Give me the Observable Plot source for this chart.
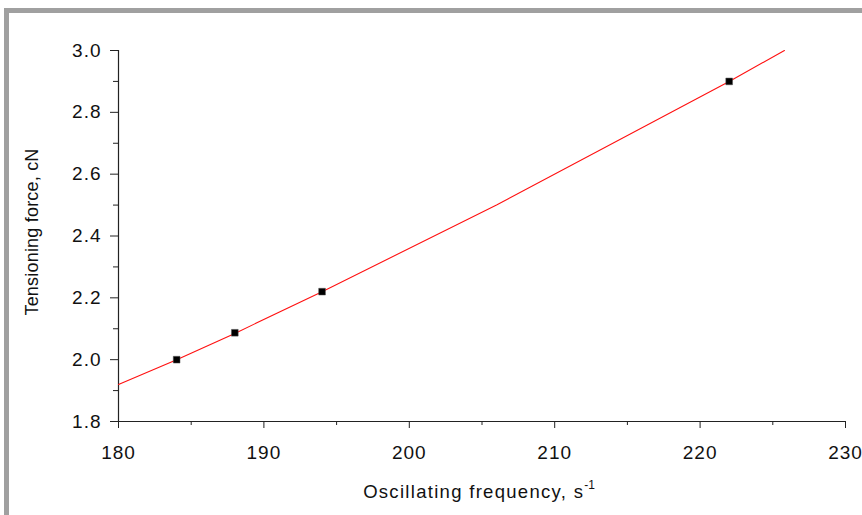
<!DOCTYPE html>
<html>
<head>
<meta charset="utf-8">
<script src="https://cdn.jsdelivr.net/npm/d3@7"></script>
<script src="https://cdn.jsdelivr.net/npm/@observablehq/plot@0.6"></script>
<style>
  html, body { margin: 0; padding: 0; background: #fff; }
  #wrap { position: relative; width: 862px; height: 515px; overflow: hidden; }
  #frame { position: absolute; left: 4px; top: 8px; right: -10px; bottom: -10px;
           border-left: 5px solid #a0a0a0; border-top: 5px solid #a0a0a0; }
  #chart { position: absolute; left: 0; top: 0; }
  svg { font-family: "Liberation Sans", Arial, sans-serif; }
  svg text { letter-spacing: 1px; }
  g[aria-label="x-axis tick label"], g[aria-label="y-axis tick label"] { font-size: 19px !important; }
</style>
</head>
<body>
<div id="wrap"><div id="frame"></div><div id="chart"></div></div>
<script>
// Measured points
const freqPoints = [184, 188, 194, 222];
const forcePoints = [2.0, 2.087, 2.22, 2.9];
// Fitted curve (red line) vertices
const freqLine = [180, 184, 188, 194, 206, 222, 225.8];
const forceLine = [1.92, 2.0, 2.085, 2.22, 2.5, 2.9, 3.0];
// Ticks
const xMajor = [180, 190, 200, 210, 220, 230];
const xMinor = [185, 195, 205, 215, 225];
const yMajor = [1.8, 2.0, 2.2, 2.4, 2.6, 2.8, 3.0];
const yMinor = [1.9, 2.1, 2.3, 2.5, 2.7, 2.9];

const points = freqPoints.map((f, i) => ({f, t: forcePoints[i]}));
const line = freqLine.map((f, i) => ({f, t: forceLine[i]}));

const axisColor = "#222";
const plot = Plot.plot({
  width: 862,
  height: 515,
  marginLeft: 118,
  marginRight: 17,
  marginTop: 50,
  marginBottom: 94,
  style: {fontFamily: "Liberation Sans, Arial, sans-serif", background: "transparent", overflow: "visible"},
  x: {domain: [180, 230]},
  y: {domain: [1.8, 3.0]},
  marks: [
    Plot.axisX(xMinor, {tickSize: 4, text: null, stroke: axisColor, label: null}),
    Plot.axisX(xMajor, {tickSize: 7, tickPadding: 17, fontSize: 19, fill: "#111", stroke: axisColor, label: null, tickFormat: d => d}),
    Plot.axisY(yMinor, {tickSize: 5, text: null, stroke: axisColor, label: null}),
    Plot.axisY(yMajor, {tickSize: 8, tickPadding: 9, fontSize: 19, fill: "#111", stroke: axisColor, label: null, tickFormat: d => d.toFixed(1)}),
    Plot.ruleX([180], {stroke: axisColor, strokeWidth: 1.2}),
    Plot.ruleY([1.8], {stroke: axisColor, strokeWidth: 1.2}),
    Plot.line(line, {x: "f", y: "t", stroke: "#ff1010", strokeWidth: 1.1}),
    Plot.dot(points, {x: "f", y: "t", symbol: "square", r: 3.8, fill: "#000", stroke: "#555", strokeWidth: 0.5})
  ]
});
document.getElementById("chart").appendChild(plot);

// Axis titles
const svg = d3.select(plot);
const xt = svg.append("text")
  .attr("x", 479).attr("y", 498)
  .attr("text-anchor", "middle")
  .attr("font-size", 18.5)
  .style("letter-spacing", "1.3px")
  .attr("fill", "#111");
xt.append("tspan").text("Oscillating frequency, s");
xt.append("tspan").attr("dy", -9).attr("font-size", 12).style("letter-spacing", "0px").text("-1");

svg.append("text")
  .attr("transform", "translate(38,232) rotate(-90)")
  .attr("text-anchor", "middle")
  .attr("font-size", 18)
  .style("letter-spacing", "0.2px")
  .attr("fill", "#111")
  .text("Tensioning force, cN");
</script>
</body>
</html>
